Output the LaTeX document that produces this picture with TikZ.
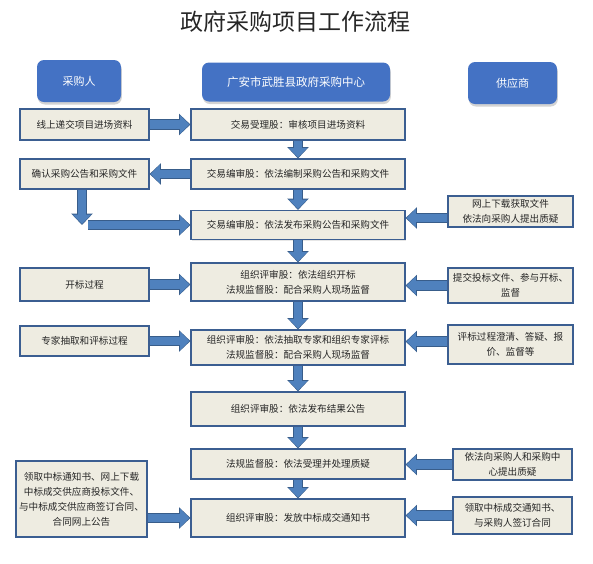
\documentclass[tikz,border=0pt]{standalone}
\usepackage{fontspec}
\setmainfont{Noto Sans CJK SC}
\usetikzlibrary{arrows.meta,shadows}
\definecolor{headblue}{HTML}{4472C4}
\definecolor{boxline}{HTML}{3B5E91}
\definecolor{boxfill}{HTML}{EEECE1}
\definecolor{arrowfill}{HTML}{4F81BD}
\definecolor{arrowline}{HTML}{385D8A}
\definecolor{titlegray}{HTML}{262626}

\newcommand{\flowarrow}[2]{%
  \draw[arrowline,line width=10.4pt,-{Triangle[length=11.4pt,width=20.8pt]}] #1 -- #2;
  \draw[arrowfill,line width=8.4pt,shorten >=1pt,-{Triangle[length=9.4pt,width=18pt]}] #1 -- #2;}

\begin{document}
\begin{tikzpicture}[x=1pt,y=-1pt,
  headbox/.style={fill=headblue,rounded corners=7pt,text=white,inner sep=0pt,
    font=\fontsize{11}{12}\selectfont,
    drop shadow={shadow xshift=0.8pt,shadow yshift=-2.5pt,opacity=0.35}},
  flowbox/.style={draw=boxline,line width=1.1pt,fill=boxfill,inner sep=0pt,
    align=center,text=black!85,font=\fontsize{9.6}{15}\selectfont,
    drop shadow={shadow xshift=1pt,shadow yshift=-1pt,opacity=0.2}}]
  \useasboundingbox (0,0) rectangle (593,563);
  \node[font=\fontsize{23}{26}\selectfont,text=titlegray] (title) at (295,22) {政府采购项目工作流程};
  % heads
  \node[headbox,minimum width=84pt,minimum height=42pt] (buyer) at (79,81) {采购人};
  \node[headbox,minimum width=188pt,minimum height=39pt,font=\fontsize{11.5}{12}\selectfont] (center) at (296,82) {广安市武胜县政府采购中心};
  \node[headbox,minimum width=89pt,minimum height=42pt] (supplier) at (512.5,83) {供应商};
  % center column
  \node[flowbox,minimum width=214pt,minimum height=31pt] (c1) at (298,124.5) {交易受理股：审核项目进场资料};
  \node[flowbox,minimum width=214pt,minimum height=30pt] (c2) at (298,174) {交易编审股：依法编制采购公告和采购文件};
  \node[flowbox,minimum width=214pt,minimum height=29pt] (c3) at (298,225) {交易编审股：依法发布采购公告和采购文件};
  \node[flowbox,minimum width=214pt,minimum height=38pt] (c4) at (298,282) {组织评审股：依法组织开标\\法规监督股：配合采购人现场监督};
  \node[flowbox,minimum width=214pt,minimum height=35pt] (c5) at (298,347.5) {组织评审股：依法抽取专家和组织专家评标\\法规监督股：配合采购人现场监督};
  \node[flowbox,minimum width=214pt,minimum height=34pt] (c6) at (298,409) {组织评审股：依法发布结果公告};
  \node[flowbox,minimum width=214pt,minimum height=30pt] (c7) at (298,464) {法规监督股：依法受理并处理质疑};
  \node[flowbox,minimum width=214pt,minimum height=38pt] (c8) at (298,518) {组织评审股：发放中标成交通知书};
  % left column
  \node[flowbox,minimum width=129pt,minimum height=31pt] (l1) at (84.5,124.5) {线上递交项目进场资料};
  \node[flowbox,minimum width=129pt,minimum height=30pt] (l2) at (84.5,174) {确认采购公告和采购文件};
  \node[flowbox,minimum width=129pt,minimum height=33pt] (l4) at (84.5,284.5) {开标过程};
  \node[flowbox,minimum width=129pt,minimum height=30pt] (l5) at (84.5,341) {专家抽取和评标过程};
  \node[flowbox,minimum width=131pt,minimum height=76pt] (l8) at (81.5,499) {领取中标通知书、网上下载\\中标成交供应商投标文件、\\与中标成交供应商签订合同、\\合同网上公告};
  % right column
  \node[flowbox,minimum width=125pt,minimum height=31pt] (r3) at (510.5,211.5) {网上下载获取文件\\依法向采购人提出质疑};
  \node[flowbox,minimum width=125pt,minimum height=35pt] (r4) at (510.5,285.5) {提交投标文件、参与开标、\\监督};
  \node[flowbox,minimum width=125pt,minimum height=39pt] (r5) at (510.5,344.5) {评标过程澄清、答疑、报\\价、监督等};
  \node[flowbox,minimum width=119pt,minimum height=31pt] (r7) at (512.5,464.5) {依法向采购人和采购中\\心提出质疑};
  \node[flowbox,minimum width=119pt,minimum height=37pt] (r8) at (512.5,515.5) {领取中标成交通知书、\\与采购人签订合同};
  % arrows
  \flowarrow{(c1.south)}{(c2.north)}
  \flowarrow{(c2.south)}{(c3.north)}
  \flowarrow{(c3.south)}{(c4.north)}
  \flowarrow{(c4.south)}{(c5.north)}
  \flowarrow{(c5.south)}{(c6.north)}
  \flowarrow{(c6.south)}{(c7.north)}
  \flowarrow{(c7.south)}{(c8.north)}
  \flowarrow{(l1.east)}{(c1.west)}
  \flowarrow{(c2.west)}{(l2.east)}
  \coordinate (l2turn) at (82,225);
  \flowarrow{(l2turn |- l2.south)}{(l2turn)}
  \flowarrow{([xshift=6pt]l2turn)}{(c3.west)}
  \coordinate (r3in) at ([yshift=-6.5pt]r3.west);
  \flowarrow{(r3in)}{(c3.east |- r3in)}
  \flowarrow{(l4.east)}{(c4.west |- l4.east)}
  \flowarrow{(r4.west)}{(c4.east |- r4.west)}
  \flowarrow{(l5.east)}{(c5.west |- l5.east)}
  \coordinate (r5in) at ([yshift=3pt]r5.west);
  \flowarrow{(r5in)}{(c5.east |- r5in)}
  \flowarrow{(r7.west)}{(c7.east |- r7.west)}
  \flowarrow{(l8.east |- c8.west)}{(c8.west)}
  \flowarrow{(r8.west)}{(c8.east |- r8.west)}
\end{tikzpicture}
\end{document}
